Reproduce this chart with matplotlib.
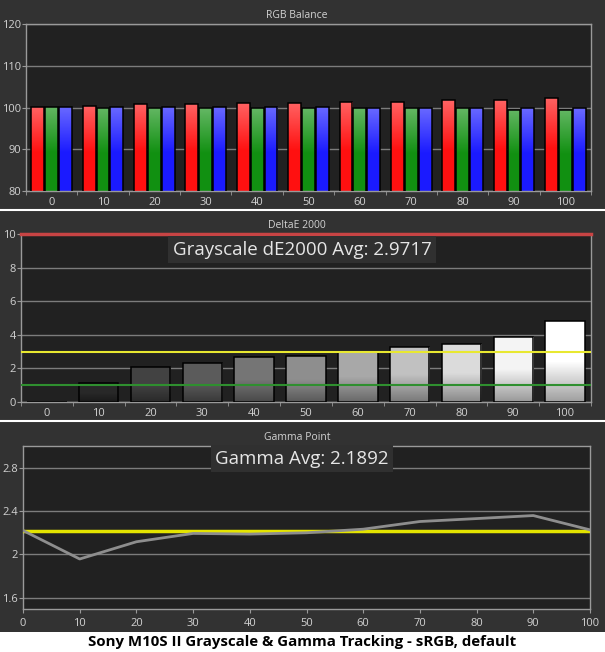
import matplotlib
matplotlib.use('Agg')
import matplotlib.pyplot as plt
import numpy as np
from matplotlib.colors import LinearSegmentedColormap, to_rgb
from matplotlib.lines import Line2D
from matplotlib.patches import Rectangle

# Data
levels = ['0', '10', '20', '30', '40', '50', '60', '70', '80', '90', '100']
rgb_red = [100.2, 100.4, 100.9, 100.9, 101.1, 101.1, 101.4, 101.4, 101.7, 101.9, 102.3]
rgb_green = [100.2, 100.0, 100.0, 99.8, 99.8, 99.8, 99.8, 99.8, 99.8, 99.5, 99.5]
rgb_blue = [100.2, 100.2, 100.2, 100.2, 100.2, 100.2, 100.0, 100.0, 100.0, 99.8, 99.8]
de2000 = [0.0, 1.13, 2.06, 2.30, 2.66, 2.72, 2.99, 3.29, 3.43, 3.89, 4.80]
gamma_x = [0, 10, 20, 30, 40, 50, 60, 70, 80, 90, 100]
gamma = [2.22, 1.957, 2.116, 2.193, 2.187, 2.199, 2.232, 2.303, 2.330, 2.358, 2.226]
gamma_target = 2.22
de_limits = {'green': 1.0, 'yellow': 3.0, 'red': 10.0}
de_avg_text = 'Grayscale dE2000 Avg: 2.9717'
gamma_avg_text = 'Gamma Avg: 2.1892'
caption = 'Sony M10S II Grayscale & Gamma Tracking - sRGB, default'

plt.rcParams['font.family'] = ['Open Sans', 'DejaVu Sans']

W, H = 605, 652
OUTER = '#323232'
INNER = '#212121'
GRID = '#7c7c7c'
TXT = '#d2d2d2'
SPINE = '#9a9a9a'

fig = plt.figure(figsize=(W / 100, H / 100), dpi=100, facecolor=OUTER)


def px_axes(left, top, right, bottom):
    return fig.add_axes([left / W, 1 - bottom / H, (right - left) / W, (bottom - top) / H])


def style_axes(ax):
    ax.set_facecolor(INNER)
    for s in ax.spines.values():
        s.set_color(SPINE)
        s.set_linewidth(1)
    ax.tick_params(colors=SPINE, labelcolor=TXT, labelsize=8, length=3, width=0.8)
    ax.tick_params(axis='y', pad=0.5)
    ax.yaxis.grid(True, color=GRID, lw=1)
    ax.set_axisbelow(True)


def gradient_bar(ax, bar, stops, ymin):
    x0 = bar.get_x()
    w = bar.get_width()
    y1 = bar.get_y() + bar.get_height()
    y0 = max(bar.get_y(), ymin)
    if y1 <= y0:
        return
    cmap = LinearSegmentedColormap.from_list('g', stops)
    grad = np.linspace(0, 1, 256).reshape(-1, 1)
    im = ax.imshow(grad, extent=(x0, x0 + w, y0, y1), origin='lower', aspect='auto',
                   cmap=cmap, zorder=2, interpolation='nearest')
    im.set_clip_path(bar)


def lighten(c, f):
    r = np.array(to_rgb(c))
    return tuple(r + (1 - r) * f)


def darken(c, f):
    return tuple(np.array(to_rgb(c)) * f)


def group_xaxis(ax, n):
    ax.set_xlim(-0.5, n - 0.5)
    ax.set_xticks(np.arange(n))
    ax.set_xticklabels(levels)
    ax.tick_params(axis='x', which='major', length=0, pad=4)
    ax.set_xticks(np.arange(n + 1) - 0.5, minor=True)
    ax.tick_params(axis='x', which='minor', length=3, color=SPINE, direction='out')


# ---- RGB Balance ----
ax1 = px_axes(26, 24, 591, 191)
style_axes(ax1)
x = np.arange(len(levels))
bw = 0.25
step = 0.27
series = [(rgb_red, '#ff1010'), (rgb_green, '#119011'), (rgb_blue, '#1a1aff')]
for i, (vals, col) in enumerate(series):
    bars = ax1.bar(x + (i - 1) * step, vals, width=bw, facecolor='none',
                   edgecolor='black', lw=1.1, zorder=3)
    for b in bars:
        gradient_bar(ax1, b, [(0, col), (0.45, col), (1, lighten(col, 0.35))], 80)
ax1.set_ylim(80, 120)
ax1.set_yticks([80, 90, 100, 110, 120])
group_xaxis(ax1, len(levels))
fig.text(297 / W, 1 - 15 / H, 'RGB Balance', color=TXT, fontsize=7.5, ha='center', va='center')

# ---- DeltaE 2000 ----
ax2 = px_axes(21, 234, 591, 402)
style_axes(ax2)
bars = ax2.bar(x, de2000, width=0.76, facecolor='none', edgecolor='black', lw=1.1, zorder=3)
for b, lv in zip(bars, gamma_x):
    g = min(1.0, 0.06 + lv / 100 * 1.0)
    c = (g, g, g)
    gradient_bar(ax2, b, [(0, darken(c, 0.62)), (0.5, c), (1, c)], 0)
ax2.axhline(de_limits['yellow'], color='#e8e830', lw=1.5, zorder=4)
ax2.axhline(de_limits['green'], color='#2f8f2f', lw=1.5, zorder=4)
ax2.axhline(de_limits['red'], color='#c84444', lw=2.5, zorder=5, clip_on=False)
ax2.set_ylim(0, 10)
ax2.set_yticks([0, 2, 4, 6, 8, 10])
group_xaxis(ax2, len(levels))
fig.text(297 / W, 1 - 226 / H, 'DeltaE 2000', color=TXT, fontsize=7.5, ha='center', va='center')
fig.text(302 / W, 1 - 249.5 / H, de_avg_text, color='#e6e6e6', fontsize=13.5,
         ha='center', va='center', zorder=10,
         bbox=dict(boxstyle='square,pad=0.25', facecolor='#303030', edgecolor='none'))

# ---- Gamma Point ----
ax3 = px_axes(23, 446, 590, 608.5)
style_axes(ax3)
ax3.axhline(gamma_target, color='#e4e400', lw=2.5, zorder=3)
ax3.plot(gamma_x, gamma, color='#8e8e8e', lw=2, zorder=4)
ax3.set_xlim(0, 100)
ax3.set_xticks(gamma_x)
ax3.tick_params(axis='x', pad=4)
ax3.set_ylim(1.5, 3.0)
ax3.set_yticks([1.6, 2.0, 2.4, 2.8])
ax3.set_yticklabels(['1.6', '2', '2.4', '2.8'])
fig.text(297 / W, 1 - 438 / H, 'Gamma Point', color=TXT, fontsize=7.5, ha='center', va='center')
fig.text(302 / W, 1 - 458.5 / H, gamma_avg_text, color='#e6e6e6', fontsize=13.5,
         ha='center', va='center', zorder=10,
         bbox=dict(boxstyle='square,pad=0.25', facecolor='#303030', edgecolor='none'))

# separators and caption strip
for yp in (210, 421):
    fig.add_artist(Line2D([0, 1], [1 - yp / H, 1 - yp / H], transform=fig.transFigure,
                          color='white', lw=1.5))
fig.add_artist(Rectangle((0, 0), 1, 20 / H, transform=fig.transFigure,
                         facecolor='white', edgecolor='none'))
fig.text(302 / W, 1 - 642 / H, caption, color='black', fontsize=10.8,
         fontweight='bold', ha='center', va='center')

fig.savefig('out.png', dpi=100, facecolor=OUTER)
